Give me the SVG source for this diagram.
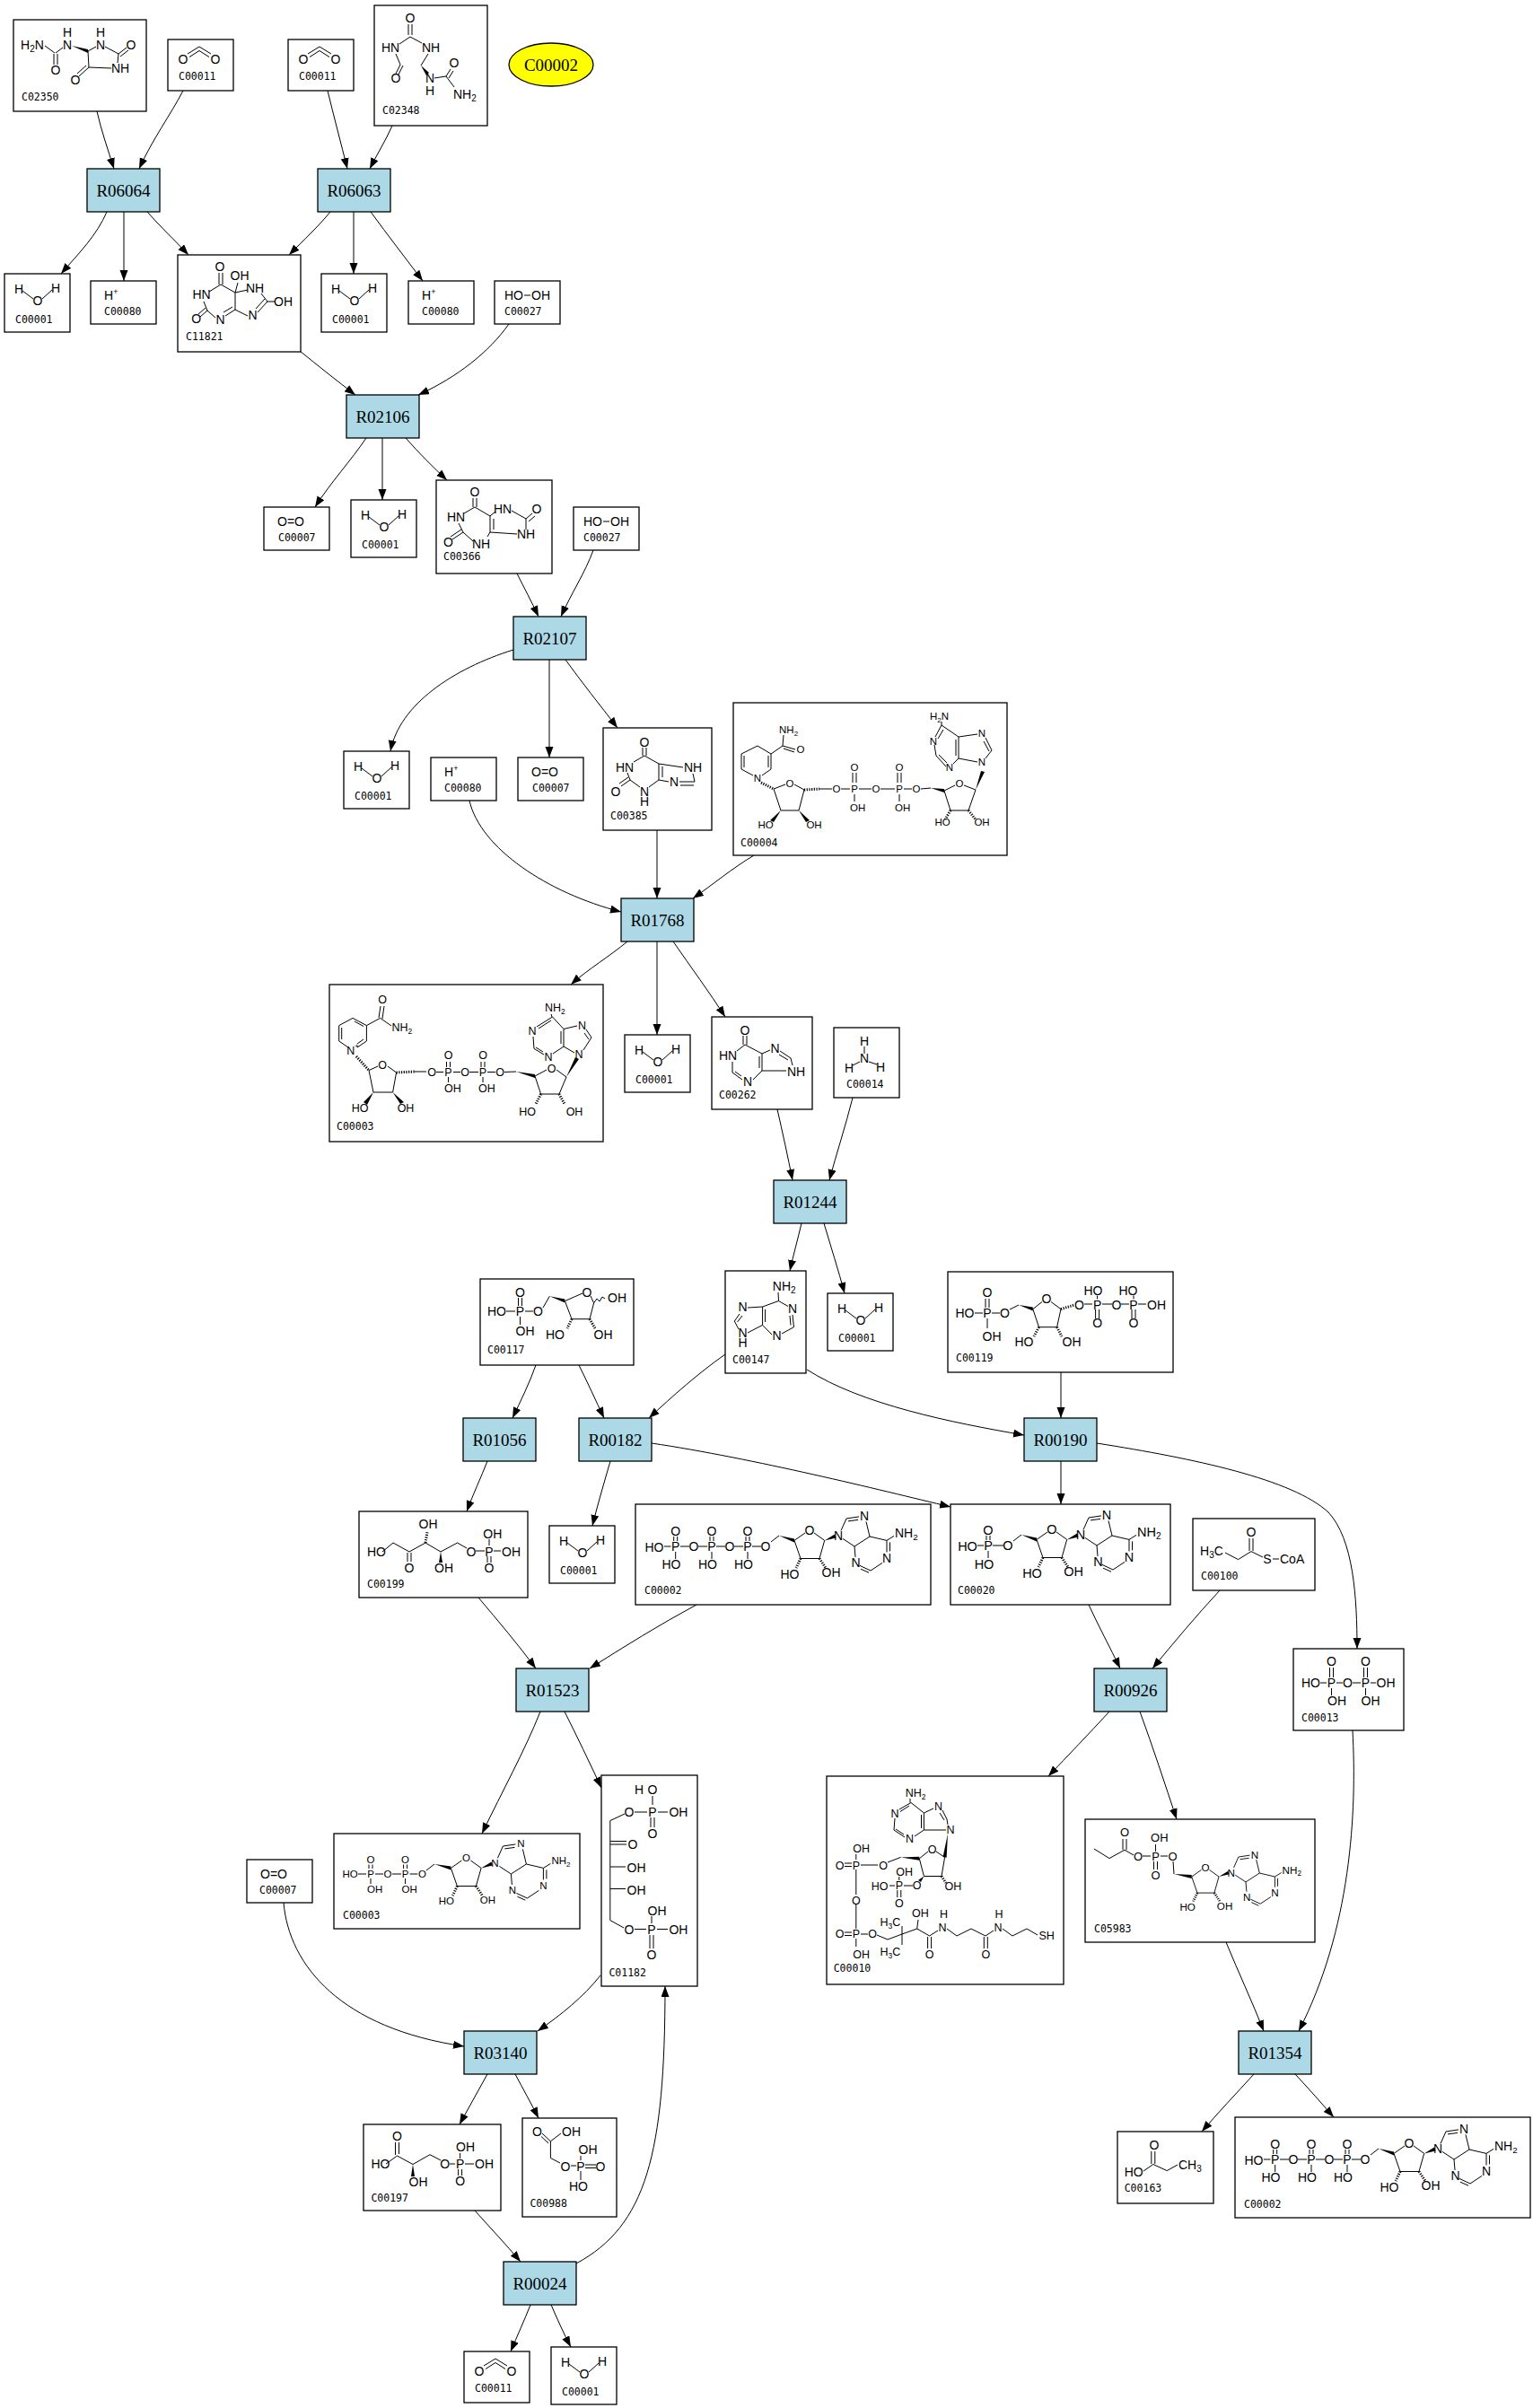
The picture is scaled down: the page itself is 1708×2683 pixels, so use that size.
<svg xmlns="http://www.w3.org/2000/svg" width="1708" height="2683" viewBox="0 0 1708 2683">
<style>
.bx{fill:#fff;stroke:#000;stroke-width:1.3}
.rx{fill:#add8e6;stroke:#000;stroke-width:1.3}
.rt{font-family:"Liberation Serif","Times New Roman",serif;font-size:19px;text-anchor:middle;fill:#000}
.id{font-family:"DejaVu Sans Mono","Liberation Mono",monospace;font-size:11.5px;fill:#000}
.m text{font-family:"Liberation Sans",Arial,sans-serif;text-anchor:middle;fill:#000}
.m .s{text-anchor:start}
.m path{fill:none;stroke:#000;stroke-width:1}
.m .w{fill:#000;stroke:none}
.m .h{stroke-dasharray:1.2 1.5;stroke-width:3}
#edges path{fill:none;stroke:#000;stroke-width:1;marker-end:url(#a)}
</style>
<defs>
<marker id="a" markerWidth="13" markerHeight="10" refX="12" refY="4.5" orient="auto" markerUnits="userSpaceOnUse"><path d="M0,0 L12,4.5 L0,9 Z" fill="#000"/></marker>
</defs>
<rect width="1708" height="2683" fill="#fff"/>

<g id="edges">
<path d="M108,124 C113,146 120,166 127,188"/>
<path d="M204,101 C190,128 170,155 155,188"/>
<path d="M365,101 C372,130 380,160 387,188"/>
<path d="M437,140 C430,156 420,172 412,188"/>
<path d="M119,236 C108,262 88,282 68,305"/>
<path d="M138,236 L138,313"/>
<path d="M164,236 C178,252 195,268 210,284"/>
<path d="M368,236 C355,252 338,268 322,284"/>
<path d="M394,236 L394,305"/>
<path d="M413,236 C432,262 452,288 471,313"/>
<path d="M334,391 C355,408 375,424 396,440"/>
<path d="M567,361 C545,392 510,420 466,440"/>
<path d="M408,488 C392,512 368,538 351,565"/>
<path d="M426,488 L426,557"/>
<path d="M452,488 C467,505 482,520 498,535"/>
<path d="M576,639 C584,655 592,670 600,687"/>
<path d="M661,613 C652,638 636,662 625,687"/>
<path d="M572,724 C505,745 445,785 435,837"/>
<path d="M612,735 L612,844"/>
<path d="M630,735 C648,760 668,785 688,811"/>
<path d="M523,892 C535,945 610,995 692,1016"/>
<path d="M732,925 L732,1001"/>
<path d="M840,953 C815,968 795,985 772,1001"/>
<path d="M699,1049 C680,1065 655,1080 636,1097"/>
<path d="M732,1049 L732,1153"/>
<path d="M750,1049 C770,1078 790,1105 808,1133"/>
<path d="M866,1236 C872,1262 878,1290 883,1315"/>
<path d="M950,1223 C942,1255 932,1285 924,1315"/>
<path d="M893,1363 C889,1380 884,1398 880,1416"/>
<path d="M918,1363 C926,1390 934,1415 941,1441"/>
<path d="M597,1521 C590,1541 580,1561 571,1580"/>
<path d="M645,1521 C655,1541 664,1561 673,1580"/>
<path d="M808,1509 C778,1530 750,1555 723,1580"/>
<path d="M899,1526 C960,1565 1060,1585 1141,1599"/>
<path d="M543,1628 C536,1646 527,1665 520,1684"/>
<path d="M680,1628 C673,1652 666,1676 660,1700"/>
<path d="M726,1608 C840,1625 980,1660 1059,1679"/>
<path d="M533,1780 C555,1806 577,1832 597,1859"/>
<path d="M776,1788 C735,1810 695,1835 657,1859"/>
<path d="M602,1907 C585,1950 560,1995 537,2043"/>
<path d="M629,1907 C643,1935 656,1962 670,1992"/>
<path d="M1182,1529 L1182,1580"/>
<path d="M1182,1628 L1182,1676"/>
<path d="M1222,1608 C1330,1625 1440,1648 1480,1685 C1508,1715 1512,1780 1512,1837"/>
<path d="M1213,1788 C1224,1812 1237,1836 1248,1859"/>
<path d="M1359,1772 C1333,1800 1308,1830 1284,1859"/>
<path d="M1236,1907 C1213,1932 1190,1956 1168,1979"/>
<path d="M1270,1907 C1285,1948 1298,1988 1311,2027"/>
<path d="M1507,1928 C1512,2020 1505,2150 1447,2263"/>
<path d="M1366,2164 C1380,2198 1395,2230 1408,2263"/>
<path d="M1397,2311 C1377,2333 1357,2354 1339,2375"/>
<path d="M1443,2311 C1458,2327 1472,2343 1486,2359"/>
<path d="M316,2120 C322,2190 380,2260 517,2280"/>
<path d="M669,2201 C650,2225 625,2245 599,2263"/>
<path d="M543,2311 C533,2330 522,2348 512,2367"/>
<path d="M574,2311 C583,2328 592,2344 600,2360"/>
<path d="M529,2463 C546,2482 563,2500 580,2520"/>
<path d="M642,2522 C720,2480 741,2400 741,2213"/>
<path d="M591,2568 C584,2586 576,2603 569,2620"/>
<path d="M614,2568 C621,2584 628,2600 636,2615"/>
</g>

<!-- reactions -->
<g id="R06064"><rect class="rx" x="97" y="188" width="81" height="48"/><text class="rt" x="137.5" y="218.5">R06064</text></g>
<g id="R06063"><rect class="rx" x="354" y="188" width="81" height="48"/><text class="rt" x="394.5" y="218.5">R06063</text></g>
<g id="R02106"><rect class="rx" x="386" y="440" width="81" height="48"/><text class="rt" x="426.5" y="470.5">R02106</text></g>
<g id="R02107"><rect class="rx" x="572" y="687" width="81" height="48"/><text class="rt" x="612.5" y="717.5">R02107</text></g>
<g id="R01768"><rect class="rx" x="692" y="1001" width="81" height="48"/><text class="rt" x="732.5" y="1031.5">R01768</text></g>
<g id="R01244"><rect class="rx" x="862" y="1315" width="81" height="48"/><text class="rt" x="902.5" y="1345.5">R01244</text></g>
<g id="R01056"><rect class="rx" x="516" y="1580" width="81" height="48"/><text class="rt" x="556.5" y="1610.5">R01056</text></g>
<g id="R00182"><rect class="rx" x="645" y="1580" width="81" height="48"/><text class="rt" x="685.5" y="1610.5">R00182</text></g>
<g id="R00190"><rect class="rx" x="1141" y="1580" width="81" height="48"/><text class="rt" x="1181.5" y="1610.5">R00190</text></g>
<g id="R01523"><rect class="rx" x="575" y="1859" width="81" height="48"/><text class="rt" x="615.5" y="1889.5">R01523</text></g>
<g id="R00926"><rect class="rx" x="1219" y="1859" width="81" height="48"/><text class="rt" x="1259.5" y="1889.5">R00926</text></g>
<g id="R03140"><rect class="rx" x="517" y="2263" width="81" height="48"/><text class="rt" x="557.5" y="2293.5">R03140</text></g>
<g id="R01354"><rect class="rx" x="1380" y="2263" width="81" height="48"/><text class="rt" x="1420.5" y="2293.5">R01354</text></g>
<g id="R00024"><rect class="rx" x="561" y="2520" width="81" height="48"/><text class="rt" x="601.5" y="2550.5">R00024</text></g>

<!-- ellipse -->
<g id="C00002_main"><ellipse cx="614" cy="72" rx="47" ry="24" fill="#ffff00" stroke="#000" stroke-width="1.3"/><text class="rt" x="614" y="78.5">C00002</text></g>

<!-- compounds -->
<g id="C02350_a" transform="translate(15,22)"><rect class="bx" width="148" height="102"/><g class="m" font-size="14">
<text class="s" x="8" y="33">H<tspan font-size="10" dy="3">2</tspan><tspan dy="-3">N</tspan></text>
<text x="47" y="61">O</text><text x="60" y="19">H</text><text x="60" y="33">N</text><text x="97" y="19">H</text><text x="97" y="33">N</text><text x="131" y="33">O</text><text class="s" x="109" y="59">NH</text><text x="69" y="72">O</text>
<path d="M35,29 L46,37 M45,38 L45,50 M49,38 L49,50 M47,37 L55,31 M83,35 L92,30 M102,30 L117,38 L126,31 M119,41 L128,34 M117,38 L116,48 M109,54 L84,53 L83,35 M84,53 L73,63 M81,51 L71,60"/>
<path class="w" d="M65,29 L83,33 L83,37 Z"/>
</g><text class="id" x="9" y="90">C02350</text></g>

<g id="C00011_a" transform="translate(187,44)"><rect class="bx" width="73" height="57"/><g class="m" font-size="14"><text x="17" y="27">O</text><text x="53" y="27">O</text><path d="M22,16 L35,8 L48,16 M24,19.5 L35,12.5 L46,19.5"/></g><text class="id" x="12" y="45">C00011</text></g>
<g id="C00011_b" transform="translate(321,44)"><rect class="bx" width="73" height="57"/><g class="m" font-size="14"><text x="17" y="27">O</text><text x="53" y="27">O</text><path d="M22,16 L35,8 L48,16 M24,19.5 L35,12.5 L46,19.5"/></g><text class="id" x="12" y="45">C00011</text></g>

<g id="C02348_a" transform="translate(417,6)"><rect class="bx" width="126" height="134"/><g class="m" font-size="14">
<text x="40" y="19">O</text><text x="18" y="52">HN</text><text x="63" y="52">NH</text><text x="24" y="86">O</text><text x="62" y="86">N</text><text x="62" y="100">H</text><text x="89" y="69">O</text>
<text class="s" x="88" y="104">NH<tspan font-size="10" dy="3">2</tspan></text>
<path d="M38,21 L38,33 M42,21 L42,33 M40,35 L28,43 M40,35 L53,42 M24,54 L29,66 L24,76 M32,67 L27,77 M60,54 L52,67 M67,81 L80,79 L85,71 M83,81 L88,73 M80,79 L89,91"/>
<path class="w" d="M52,67 L61,75 L58,78 Z"/>
</g><text class="id" x="9" y="121">C02348</text></g>

<g id="C00001_a" transform="translate(5,305)"><rect class="bx" width="73" height="65"/><g class="m" font-size="14"><text x="16" y="22">H</text><text x="37" y="35">O</text><text x="57" y="21">H</text><path d="M20,19 L32,28 M42,28 L53,18"/></g><text class="id" x="12" y="55">C00001</text></g>
<g id="C00080_a" transform="translate(101,313)"><rect class="bx" width="73" height="48"/><g class="m" font-size="14"><text class="s" x="15" y="21">H<tspan font-size="9" dy="-6">+</tspan></text></g><text class="id" x="15" y="38">C00080</text></g>

<g id="C11821_a" transform="translate(198,284)"><rect class="bx" width="137" height="108"/><g class="m" font-size="14">
<text x="47" y="18">O</text><text x="69" y="28">OH</text><text x="26.5" y="48.6">HN</text><text x="86" y="42">NH</text><text x="117.5" y="57">OH</text><text x="20.7" y="76">O</text><text x="47.5" y="77">N</text><text x="83.5" y="72">N</text>
<path d="M46,20 L46,33 M50,20 L50,33 M48,33 L35,41 M48,33 L64,42 L67,31 M64,42 L64,61 L53,68 M61,58 L51,64 M42,70 L33,62 L29,52 M33,62 L25,69 M31,59 L23,66 M64,42 L78,39 M93,43 L100,52 L108,52 M100,52 L89,64 M97,49 L87,60 M78,68 L64,61"/>
</g><text class="id" x="9" y="95">C11821</text></g>

<g id="C00001_b" transform="translate(358,305)"><rect class="bx" width="73" height="65"/><g class="m" font-size="14"><text x="16" y="22">H</text><text x="37" y="35">O</text><text x="57" y="21">H</text><path d="M20,19 L32,28 M42,28 L53,18"/></g><text class="id" x="12" y="55">C00001</text></g>
<g id="C00080_b" transform="translate(455,313)"><rect class="bx" width="73" height="48"/><g class="m" font-size="14"><text class="s" x="15" y="21">H<tspan font-size="9" dy="-6">+</tspan></text></g><text class="id" x="15" y="38">C00080</text></g>
<g id="C00027_a" transform="translate(551,313)"><rect class="bx" width="73" height="48"/><g class="m" font-size="14"><text class="s" x="11" y="21">HO</text><text class="s" x="41" y="21">OH</text><path d="M33,16 L40,16"/></g><text class="id" x="11" y="38">C00027</text></g>

<g id="C00007_a" transform="translate(294,565)"><rect class="bx" width="73" height="48"/><g class="m" font-size="14"><text x="30" y="21">O=O</text></g><text class="id" x="16" y="38">C00007</text></g>
<g id="C00001_c" transform="translate(391,557)"><rect class="bx" width="73" height="64"/><g class="m" font-size="14"><text x="16" y="22">H</text><text x="37" y="35">O</text><text x="57" y="21">H</text><path d="M20,19 L32,28 M42,28 L53,18"/></g><text class="id" x="12" y="54">C00001</text></g>

<g id="C00366_a" transform="translate(486,535)"><rect class="bx" width="129" height="104"/><g class="m" font-size="14">
<text x="43" y="18">O</text><text x="22" y="46">HN</text><text x="74" y="37">HN</text><text x="112" y="37">O</text><text x="100" y="65">NH</text><text x="13.5" y="74">O</text><text x="50" y="76">NH</text>
<path d="M41,20 L41,30 M45,20 L45,30 M43,30 L31,37 M43,30 L60,40 L60,58 M64,43 L64,55 M60,58 L57,63 M41,68 L30,58 L25,48 M30,58 L18,66 M28,55 L16,63 M60,40 L66,35 M84,34 L100,43 L107,37 M103,46 L110,40 M100,43 L100,55 M90,60 L60,58"/>
</g><text class="id" x="8" y="89">C00366</text></g>

<g id="C00027_b" transform="translate(639,565)"><rect class="bx" width="73" height="48"/><g class="m" font-size="14"><text class="s" x="11" y="21">HO</text><text class="s" x="41" y="21">OH</text><path d="M33,16 L40,16"/></g><text class="id" x="11" y="38">C00027</text></g>

<g id="C00001_d" transform="translate(383,837)"><rect class="bx" width="73" height="64"/><g class="m" font-size="14"><text x="16" y="22">H</text><text x="37" y="35">O</text><text x="57" y="21">H</text><path d="M20,19 L32,28 M42,28 L53,18"/></g><text class="id" x="12" y="54">C00001</text></g>
<g id="C00080_c" transform="translate(480,844)"><rect class="bx" width="73" height="48"/><g class="m" font-size="14"><text class="s" x="15" y="21">H<tspan font-size="9" dy="-6">+</tspan></text></g><text class="id" x="15" y="38">C00080</text></g>
<g id="C00007_b" transform="translate(577,844)"><rect class="bx" width="73" height="48"/><g class="m" font-size="14"><text x="30" y="21">O=O</text></g><text class="id" x="16" y="38">C00007</text></g>

<g id="C00385_a" transform="translate(672,811)"><rect class="bx" width="121" height="114"/><g class="m" font-size="14">
<text x="46" y="20.5">O</text><text x="24" y="49">HN</text><text x="100" y="49">NH</text><text x="14" y="76">O</text><text x="46" y="76">N</text><text x="46" y="87">H</text><text x="79" y="65">N</text>
<path d="M44,22 L44,31 M48,22 L48,31 M46,31 L34,38 M46,31 L62,40 L62,58 M66,43 L66,55 M62,58 L51,66 M41,66 L30,58 L27,50 M30,58 L20,65 M28,55 L18,62 M62,40 L89,44 M100,51 L102,60 L85,60 M101,64 L86,64 M73,60 L62,58"/>
</g><text class="id" x="8" y="102">C00385</text></g>

<g id="C00004_a" transform="translate(817,783)"><rect class="bx" width="305" height="170"/><g class="m" font-size="11.5">
<text class="s" x="51" y="34">NH<tspan font-size="8" dy="3">2</tspan></text>
<text x="75" y="56">O</text><text x="27" y="88">N</text><text x="63" y="94">O</text>
<text x="36" y="140">HO</text><text x="90" y="140">OH</text>
<text x="115" y="100">O</text><text x="135" y="100">P</text><text x="135" y="76">O</text><text class="s" x="130" y="121">OH</text>
<text x="159" y="100">O</text><text x="185" y="100">P</text><text x="185" y="76">O</text><text class="s" x="180" y="121">OH</text>
<text x="204" y="100">O</text><text x="252" y="93.5">O</text>
<text x="233" y="137">HO</text><text x="277" y="137">OH</text>
<text class="s" x="219" y="19.3">H<tspan font-size="8" dy="3">2</tspan><tspan dy="-3">N</tspan></text>
<text x="223" y="46.7">N</text><text x="241" y="76">N</text><text x="277" y="38.3">N</text><text x="277" y="70">N</text>
<path d="M27,48 L42,57 L42,74 L32,81 M22,81 L9,74 L9,57 L27,48 M39,59 L39,72 M12,59 L12,72 M42,57 L55,48 L69,52 M56,51 L68,55 M55,48 L56,36 M45,96 L58,91 M68,91 L79,97 L73,120 L53,120 L45,96 M96,96 L110,96 M120,96 L130,96 M140,96 L154,96 M164,96 L180,96 M190,96 L199,96 M209,96 L220,95 M133,78 L133,89 M137,78 L137,89 M135,102 L135,110 M183,78 L183,89 M187,78 L187,89 M185,102 L185,110 M235,98 L247,92 M257,92 L270,97 L262,120 L242,120 L235,98 M281,62 L288,53 L281,39 M285,54 L279,43 M272,35 L251,38 L251,62 L272,66 M248,41 L248,59 M251,62 L245,68 M237,71 L226,59 L224,47 M238,67 L229,58 M225,38 L232,25 L251,38 M228,40 L234,30 M232,25 L232,21"/>
<path class="h" d="M31,89 L45,96 M79,97 L96,96 M242,120 L236,130 M262,120 L270,130"/>
<path class="w" d="M53,120 L41,131 L45,133 Z M73,120 L81,133 L85,131 Z M220,95 L235,96 L235,100 Z M270,97 L276,76 L280,77 Z"/>
</g><text class="id" x="8" y="160">C00004</text></g>

<g id="C00003_a" transform="translate(367,1097)"><rect class="bx" width="305" height="175"/><g class="m" font-size="12.5">
<text x="59" y="21">O</text>
<text class="s" x="69.5" y="52">NH<tspan font-size="8.5" dy="3">2</tspan></text>
<text x="26" y="78">N<tspan font-size="8" dy="-7">+</tspan></text>
<text x="59" y="94">O</text>
<text x="34" y="141.7">HO</text><text x="85" y="141.7">OH</text>
<text x="114" y="102">O</text><text x="132.5" y="102">P</text><text x="132.5" y="83">O</text><text class="s" x="128" y="120">OH</text>
<text x="151" y="102">O</text><text x="171" y="102">P</text><text x="171" y="83">O</text><text class="s" x="166" y="120">OH</text>
<text x="190" y="102">O</text><text x="247.5" y="97.5">O</text>
<text x="220.5" y="145.6">HO</text><text x="273" y="145.6">OH</text>
<text class="s" x="240" y="30">NH<tspan font-size="8.5" dy="3">2</tspan></text>
<text x="226" y="56">N</text><text x="244" y="84.5">N</text><text x="281.6" y="50">N</text><text x="278" y="81.5">N</text>
<path d="M10.7,45.6 L26,37.4 L41.4,45.6 L41.4,63 L31,70 M21,70 L10.7,63 L10.7,45.6 M28,41 L38,46.5 M38,61 L31,66 M13.7,48 L13.7,61 M41.4,45.6 L56.7,37.4 L69,46 M55,37 L57,24 M59,38 L61,24 M44,95.6 L54,91 M65,91 L74.6,98 L70.6,120 L49,120 L44,95.6 M95,97 L108,97 M119,97.5 L127,97.5 M138,97.5 L146,97.5 M156,97.5 L166,97.5 M176,97.5 L185,97.5 M195,97.5 L208,97 M130.5,86 L130.5,92 M134.5,86 L134.5,92 M132.5,103 L132.5,109 M169,86 L169,92 M173,86 L173,92 M171,103 L171,109 M229,102 L242,95 M253,95 L264,103 L256,122 L235.6,122 L229,102 M248.5,36 L231,47 M247,40 L233,49 M248.5,36 L261,49.5 L261,69 L249,77 M258,52 L258,66 M239,78 L228,71.4 L227,58 M238,75 L230,70 M261,49.5 L276,46 M286,50 L292,59 L283,73 M284,54 L289,61 M273,76 L261,69 M248,36 L247,33"/>
<path class="h" d="M30,80 L44,95.6 M74.6,98 L95,97 M235.6,122 L230,133 M256,122 L262,133"/>
<path class="w" d="M49,120 L38,131 L42,134 Z M70.6,120 L79,133 L83,131 Z M208,97 L229,100 L229,104 Z M264,103 L274,81 L278,83 Z"/>
</g><text class="id" x="8" y="162">C00003</text></g>

<g id="C00001_e" transform="translate(696,1153)"><rect class="bx" width="73" height="64"/><g class="m" font-size="14"><text x="16" y="22">H</text><text x="37" y="35">O</text><text x="57" y="21">H</text><path d="M20,19 L32,28 M42,28 L53,18"/></g><text class="id" x="12" y="54">C00001</text></g>

<g id="C00262_a" transform="translate(793,1133)"><rect class="bx" width="112" height="103"/><g class="m" font-size="14">
<text x="37" y="19.5">O</text><text x="18" y="47.5">HN</text><text x="70.6" y="40">N</text><text class="s" x="84" y="65.5">NH</text><text x="40" y="76.5">N</text>
<path d="M35,21 L35,31 M39,21 L39,31 M37,31 L28,38 M37,31 L56,41 L56,60 M53,44 L53,57 M23,50 L23,62 L34,70 M26,61 L33,66 M46,70 L56,60 L83,60 M56,41 L65,37 M76,38 L88,46 L90,54 M75,42 L85,48"/>
</g><text class="id" x="8" y="91">C00262</text></g>

<g id="C00014_a" transform="translate(929,1145)"><rect class="bx" width="73" height="78"/><g class="m" font-size="14"><text x="34" y="20">H</text><text x="34" y="39">N</text><text x="17" y="49.5">H</text><text x="52" y="48.5">H</text><path d="M34,21 L34,29 M29,38 L21,42 M39,38 L48,41"/></g><text class="id" x="14" y="66.5">C00014</text></g>

<g id="C00117_a" transform="translate(535,1425)"><rect class="bx" width="171" height="96"/><g class="m" font-size="14">
<text x="18.5" y="41">HO</text><text x="44.5" y="41">P</text><text x="44.5" y="19.5">O</text><text x="50" y="62.6">OH</text><text x="64.5" y="41">O</text>
<text x="119" y="19.5">O</text><text class="s" x="142" y="25.5">OH</text><text x="83.5" y="67">HO</text><text x="137" y="67">OH</text>
<path d="M29,36 L39,36 M50,36 L59,36 M42.5,21 L42.5,30 M46.5,21 L46.5,30 M44.5,42 L44.5,51 M70,32 L77.4,19.2 M94.4,24.6 L114,16 M123,19 L126.6,26.8 L122,44.7 L102,44.7 L94.4,24.6 M126.6,26.8 L130,22 L133,25 L136,20 L139,22"/>
<path class="h" d="M102,44.7 L97,55 M122,44.7 L128,55"/>
<path class="w" d="M77.4,19.2 L94.4,22.6 L94.4,26.6 Z"/>
</g><text class="id" x="8" y="83">C00117</text></g>

<g id="C00147_a" transform="translate(808,1416)"><rect class="bx" width="90" height="114"/><g class="m" font-size="14">
<text class="s" x="52.8" y="22.4">NH<tspan font-size="10" dy="3">2</tspan></text>
<text x="75" y="47">N</text><text x="57.5" y="77">N</text><text x="19.5" y="45">N</text><text x="19.5" y="74">N</text><text x="19.5" y="85">H</text>
<path d="M59.5,33.5 L59,24 M59.5,33.5 L70,39.5 M75,49 L76.5,62.6 L63,70 M72,50 L73,60.5 M52,71 L41.6,60.4 L41.6,40 L59.5,33.5 M44.6,57 L44.6,43 M41.6,40 L25,41 M16,48 L10.3,56 L15,65 M19,50 L13.5,57 M25,69 L41.6,60.4"/>
</g><text class="id" x="8" y="103">C00147</text></g>

<g id="C00001_f" transform="translate(922,1441)"><rect class="bx" width="73" height="64"/><g class="m" font-size="14"><text x="16" y="22">H</text><text x="37" y="35">O</text><text x="57" y="21">H</text><path d="M20,19 L32,28 M42,28 L53,18"/></g><text class="id" x="12" y="54">C00001</text></g>

<g id="C00119_a" transform="translate(1056,1417)"><rect class="bx" width="251" height="112"/><g class="m" font-size="14">
<text x="19" y="51">HO</text><text x="44" y="51">P</text><text x="44" y="28">O</text><text x="49" y="76.5">OH</text><text x="63.5" y="51">O</text>
<text x="110" y="35">O</text><text x="85" y="82.7">HO</text><text x="138" y="82.7">OH</text>
<text x="146.5" y="41.5">O</text><text x="166.6" y="41.5">P</text><text x="162" y="25.5">HO</text><text x="166.6" y="62">O</text>
<text x="188" y="41.5">O</text><text x="207" y="41.5">P</text><text x="201" y="25.5">HO</text><text x="207" y="62">O</text><text class="s" x="222" y="41.5">OH</text>
<path d="M30,46 L39,46 M49,46 L58,46 M42,30 L42,40 M46,30 L46,40 M44,52 L44,63 M69,42 L79,37 M94.8,41.6 L105,33.5 M115,33.5 L126,41.6 L121.6,61.7 L101.5,61.7 L94.8,41.6 M152,36 L161,36 M172,36 L183,36 M166.6,26.5 L166.6,30.5 M164.6,42 L164.6,52 M168.6,42 L168.6,52 M193,36 L202,36 M207,26.5 L207,30.5 M205,42 L205,52 M209,42 L209,52 M212,36 L221,36"/>
<path class="h" d="M101.5,61.7 L96,72 M121.6,61.7 L127,72 M126,41.6 L141,37"/>
<path class="w" d="M79,37 L94.8,39.6 L94.8,43.6 Z"/>
</g><text class="id" x="9" y="99.7">C00119</text></g>

<g id="C00199_a" transform="translate(400,1684)"><rect class="bx" width="188" height="96"/><g class="m" font-size="14">
<text class="s" x="9" y="49.6">HO</text><text x="56" y="68">O</text><text x="77" y="19">OH</text><text x="94.5" y="68">OH</text>
<text x="125" y="49.6">O</text><text x="145" y="49.6">P</text><text x="148.8" y="29.5">OH</text><text class="s" x="159" y="49.6">OH</text><text x="145" y="68">O</text>
<path d="M26,45 L38,35 L56,45 L74,35 L91,45 L109.6,35 L120,41 M54,46 L54,56 M58,46 L58,56 M130,44 L140,44 M150,44 L158,44 M145,38 L145,31 M143,50 L143,57 M147,50 L147,57"/>
<path class="h" d="M74,35 L76,23"/>
<path class="w" d="M91,45 L93,57 L89,57 Z"/>
</g><text class="id" x="9" y="85.4">C00199</text></g>

<g id="C00001_g" transform="translate(612,1700)"><rect class="bx" width="73" height="64"/><g class="m" font-size="14"><text x="16" y="22">H</text><text x="37" y="35">O</text><text x="57" y="21">H</text><path d="M20,19 L32,28 M42,28 L53,18"/></g><text class="id" x="12" y="54">C00001</text></g>

<g id="C00002_m" transform="translate(708,1676)"><rect class="bx" width="329" height="112"/><g class="m" font-size="14">
<text x="21" y="53">HO</text>
<text x="44.7" y="52">P</text><text x="44.7" y="35">O</text><text x="40" y="72">HO</text>
<text x="85" y="52">P</text><text x="85" y="35">O</text><text x="80.5" y="72">HO</text>
<text x="125" y="52">P</text><text x="125" y="35">O</text><text x="120.5" y="72">HO</text>
<text x="65" y="52">O</text><text x="105" y="52">O</text><text x="145" y="52">O</text>
<path d="M32,47 L39.5,47 M50,47 L60,47 M70,47 L80,47 M90,47 L100,47 M110,47 L120,47 M130,47 L140,47 M42.7,36 L42.7,41 M46.7,36 L46.7,41 M83,36 L83,41 M87,36 L87,41 M123,36 L123,41 M127,36 L127,41 M44.7,53 L44.7,61 M85,53 L85,61 M125,53 L125,61 M151,42 L160,35"/>
<path class="w" d="M160,35 L177,38.4 L177,42.4 Z"/>
<g transform="translate(177,40.4)"><path d="M0,0 L12,-8.4 M22,-8.4 L33.7,0 L28,20.1 L7,20.1 L0,0 M52,-11 L58,-24.4 L72,-26.5 M60,-21.5 L71,-23 M80,-21 L84,-4.4 L67,6.6 L54,-2 M67,6.6 L68,18.5 M73,28 L85,33.6 M74,31.8 L83,35.8 M85,33.6 L98,25 M103,13 L103,0 M106.5,12 L106.5,2 M103,0 L84,-4.4 M103,0 L111,-5"/><path class="h" d="M7,20.1 L2,30.6 M28,20.1 L35,30.6"/><path class="w" d="M33.7,0 L45,-7 L46.5,-3 Z"/><text x="17" y="-6.4">O</text><text x="-5" y="42.4">HO</text><text x="41" y="41.1">OH</text><text x="49" y="-0.4">N</text><text x="78" y="-22.1">N</text><text x="68.5" y="30">N</text><text x="103" y="24.9">N</text><text class="s" x="112" y="-3.6">NH<tspan font-size="70%" dy="3">2</tspan></text></g>
</g><text class="id" x="10" y="100">C00002</text></g>

<g id="C00020_a" transform="translate(1059,1676)"><rect class="bx" width="245" height="112"/><g class="m" font-size="14.5">
<text x="19" y="52">HO</text><text x="42" y="51">P</text><text x="42" y="34">O</text><text x="37.5" y="71.5">HO</text><text x="64" y="51">O</text>
<path d="M30,46 L37,46 M47,46 L59,46 M40,35 L40,40 M44,35 L44,40 M42,52 L42,60 M70,41 L79,34"/>
<path class="w" d="M79,34 L96,37.4 L96,41.4 Z"/>
<g transform="translate(96,39.4)"><path d="M0,0 L12,-8.4 M22,-8.4 L33.7,0 L28,20.1 L7,20.1 L0,0 M52,-11 L58,-24.4 L72,-26.5 M60,-21.5 L71,-23 M80,-21 L84,-4.4 L67,6.6 L54,-2 M67,6.6 L68,18.5 M73,28 L85,33.6 M74,31.8 L83,35.8 M85,33.6 L98,25 M103,13 L103,0 M106.5,12 L106.5,2 M103,0 L84,-4.4 M103,0 L111,-5"/><path class="h" d="M7,20.1 L2,30.6 M28,20.1 L35,30.6"/><path class="w" d="M33.7,0 L45,-7 L46.5,-3 Z"/><text x="17" y="-6.4">O</text><text x="-5" y="42.4">HO</text><text x="41" y="41.1">OH</text><text x="49" y="-0.4">N</text><text x="78" y="-22.1">N</text><text x="68.5" y="30">N</text><text x="103" y="24.9">N</text><text class="s" x="112" y="-3.6">NH<tspan font-size="70%" dy="3">2</tspan></text></g>
</g><text class="id" x="8" y="100">C00020</text></g>

<g id="C00100_a" transform="translate(1329,1692)"><rect class="bx" width="136" height="80"/><g class="m" font-size="14">
<text class="s" x="8" y="41">H<tspan font-size="10" dy="3">3</tspan><tspan dy="-3">C</tspan></text>
<text x="65" y="20.4">O</text><text x="83" y="50">S</text><text class="s" x="97" y="50">CoA</text>
<path d="M36,38 L50.5,45.6 L65,36.6 L78,43 M63,36 L63,22 M67,36 L67,22 M89,45 L96,45"/>
</g><text class="id" x="9" y="68">C00100</text></g>

<g id="C00013_a" transform="translate(1441,1837)"><rect class="bx" width="123" height="91"/><g class="m" font-size="14">
<text x="42.5" y="19">O</text><text x="80.5" y="19">O</text><text class="s" x="9" y="43">HO</text><text x="42.5" y="43">P</text><text x="60.4" y="43">O</text><text x="80.5" y="43">P</text><text class="s" x="92.6" y="43">OH</text><text class="s" x="38" y="62.6">OH</text><text class="s" x="75.6" y="62.6">OH</text>
<path d="M30,38 L37,38 M48,38 L55,38 M66,38 L75,38 M86,38 L92,38 M40.5,21 L40.5,32 M44.5,21 L44.5,32 M78.5,21 L78.5,32 M82.5,21 L82.5,32 M42.5,44 L42.5,52 M80.5,44 L80.5,52"/>
</g><text class="id" x="9" y="80.5">C00013</text></g>

<g id="C00003_b" transform="translate(372,2043)"><rect class="bx" width="274" height="106"/><g class="m" font-size="11.5">
<text x="18" y="49">HO</text>
<text x="41" y="49">P</text><text x="41" y="33">O</text><text class="s" x="37" y="66">OH</text>
<text x="79.6" y="49">P</text><text x="79.6" y="33">O</text><text class="s" x="75.6" y="66">OH</text>
<text x="60" y="49">O</text><text x="98.4" y="49">O</text>
<path d="M27,45 L36,45 M46,45 L55,45 M65,45 L75,45 M84.6,45 L93.4,45 M39,34.5 L39,39 M43,34.5 L43,39 M77.6,34.5 L77.6,39 M81.6,34.5 L81.6,39 M41,50 L41,56 M79.6,50 L79.6,56 M103,41 L112,34"/>
<path class="w" d="M112,34 L130.4,36.4 L130.4,40.4 Z"/>
<g transform="translate(130.4,38.4)"><path d="M0,0 L12,-8.4 M22,-8.4 L33.7,0 L28,20.1 L7,20.1 L0,0 M52,-11 L58,-24.4 L72,-26.5 M60,-21.5 L71,-23 M80,-21 L84,-4.4 L67,6.6 L54,-2 M67,6.6 L68,18.5 M73,28 L85,33.6 M74,31.8 L83,35.8 M85,33.6 L98,25 M103,13 L103,0 M106.5,12 L106.5,2 M103,0 L84,-4.4 M103,0 L111,-5"/><path class="h" d="M7,20.1 L2,30.6 M28,20.1 L35,30.6"/><path class="w" d="M33.7,0 L45,-7 L46.5,-3 Z"/><text x="17" y="-7">O</text><text x="-5" y="41">HO</text><text x="41" y="40">OH</text><text x="49" y="-1">N</text><text x="78" y="-23">N</text><text x="68.5" y="29">N</text><text x="103" y="24">N</text><text class="s" x="112" y="-4">NH<tspan font-size="70%" dy="3">2</tspan></text></g>
</g><text class="id" x="10" y="94.5">C00003</text></g>

<g id="C01182_a" transform="translate(670,1978)"><rect class="bx" width="107" height="235"/><g class="m" font-size="14">
<text x="42" y="21">H</text><text x="57" y="21">O</text>
<text x="31" y="46">O</text><text x="57" y="46">P</text><text class="s" x="75.4" y="46">OH</text><text x="57" y="70">O</text>
<text x="35" y="82">O</text><text class="s" x="28.6" y="107.7">OH</text><text class="s" x="28.6" y="132.5">OH</text>
<text x="31" y="177">O</text><text x="56" y="177">P</text><text x="62" y="155.6">OH</text><text class="s" x="75.4" y="177">OH</text><text x="56" y="205">O</text>
<path d="M57,23 L57,33 M37,41 L51,41 M63,41 L74,41 M55,47 L55,58 M59,47 L59,58 M26,43 L9.8,50.6 L9.8,161.6 L25,170 M9.8,73.5 L28,73.5 M9.8,77 L28,77 M9.8,102 L27,102 M9.8,126.5 L27,126.5 M37,171.5 L50,171.5 M62,171.5 L74,171.5 M56,157 L56,165 M54,178 L54,193 M58,178 L58,193"/>
</g><text class="id" x="8.4" y="224">C01182</text></g>

<g id="C00010_a" transform="translate(921,1979)"><rect class="bx" width="264" height="232"/><g class="m" font-size="12.5">
<text class="s" x="87.8" y="23.4">NH<tspan font-size="8.5" dy="3">2</tspan></text>
<text x="76" y="46">N</text><text x="92.4" y="74">N</text><text x="124.4" y="38">N</text><text x="138" y="64">N</text>
<text x="117.7" y="86">O</text><text class="s" x="131.6" y="126.5">OH</text>
<text x="59" y="127">HO</text><text x="80.8" y="126">P</text><text x="100.7" y="126">O</text><text x="86.7" y="110.5">OH</text><text x="80.8" y="146">O</text>
<text x="14.5" y="103.5">O</text><text x="32.8" y="103.5">P</text><text x="63" y="103.5">O</text><text x="38.7" y="84.8">OH</text>
<text x="32.8" y="142.5">O</text>
<text x="14.5" y="180.3">O</text><text x="32.8" y="180.3">P</text><text x="51.1" y="180.3">O</text><text x="38.7" y="202.8">OH</text>
<text class="s" x="59.4" y="166.7">H<tspan font-size="8.5" dy="3">3</tspan><tspan dy="-3">C</tspan></text>
<text class="s" x="59.4" y="199.5">H<tspan font-size="8.5" dy="3">3</tspan><tspan dy="-3">C</tspan></text>
<text x="104.3" y="157.4">OH</text>
<text x="130.4" y="158.3">H</text><text x="129" y="173">N</text>
<text x="114.6" y="203">O</text><text x="177.3" y="203">O</text>
<text x="192" y="158.3">H</text><text x="191" y="173">N</text>
<text class="s" x="236.5" y="181.7">SH</text>
<path d="M93,29.5 L93,25 M94,29.5 L81,37 M92,33 L82,39.5 M94,29.5 L108.4,41 L108.4,60 M105.5,43 L105.5,58 M108.4,60 L98,67 M87,68 L75,60 L76,47 M86,65 L77,59 M108.4,41 L119,36 M129,38 L134,48 L135,54 M126,41 L131,49 M133,60 L108.4,60 M131.6,90.4 L122,84 M113,84 L103.3,91.8 L108.4,111.5 L128,111.5 L131.6,90.4 M70,122 L76,122 M86,122 L96,122 M80.8,116 L80.8,112 M78.8,127 L78.8,135 M82.8,127 L82.8,135 M20,97 L28,97 M20,100.5 L28,100.5 M38,99 L57,99 M32.8,93 L32.8,87 M68,96 L82.6,90.4 M32.8,104 L32.8,132 M32.8,143 L32.8,170 M20,174 L28,174 M20,177.5 L28,177.5 M38,176 L46,176 M32.8,181 L32.8,190 M56,177 L68,182 L84,176 M84,176 L84,167 M84,176 L84,188 M84,176 L100.7,170 L102,160 M100.7,170 L114.6,178 L124,172 M112.6,179 L112.6,192 M116.6,179 L116.6,192 M134,170 L145,178 L161,170 L177,178 L186,172 M175.3,179 L175.3,192 M179.3,179 L179.3,192 M196,170 L207,178 L223,170 L235,177"/>
<path class="h" d="M128,111.5 L133,119"/>
<path class="w" d="M135,64 L129.6,90 L133.6,90.8 Z M82.6,90.4 L103.3,89.8 L103.3,93.8 Z M108.4,111.5 L102,116 L105,118 Z"/>
</g><text class="id" x="7.7" y="218">C00010</text></g>

<g id="C05983_a" transform="translate(1209,2027)"><rect class="bx" width="256" height="137"/><g class="m" font-size="13">
<text x="44" y="19">O</text><text x="59" y="46">O</text><text x="78.5" y="46">P</text><text x="82.8" y="24.8">OH</text><text x="78.5" y="67">O</text><text x="97.6" y="46">O</text>
<path d="M10,33 L27,43.6 L44,34.2 M42,34 L42,22 M46,34 L46,22 M44,34.2 L54,40 M64,41 L73,41 M78.5,36 L78.5,28 M76.5,47 L76.5,56 M80.5,47 L80.5,56 M84,41 L92,41 M98,47 L99,61"/>
<path class="w" d="M99,61 L118.7,62 L118.7,66 Z"/>
<g transform="translate(118.7,64) scale(0.9)"><path d="M0,0 L12,-8.4 M22,-8.4 L33.7,0 L28,20.1 L7,20.1 L0,0 M52,-11 L58,-24.4 L72,-26.5 M60,-21.5 L71,-23 M80,-21 L84,-4.4 L67,6.6 L54,-2 M67,6.6 L68,18.5 M73,28 L85,33.6 M74,31.8 L83,35.8 M85,33.6 L98,25 M103,13 L103,0 M106.5,12 L106.5,2 M103,0 L84,-4.4 M103,0 L111,-5"/><path class="h" d="M7,20.1 L2,30.6 M28,20.1 L35,30.6"/><path class="w" d="M33.7,0 L45,-7 L46.5,-3 Z"/><text x="17" y="-6.4">O</text><text x="-5" y="42.4">HO</text><text x="41" y="41.1">OH</text><text x="49" y="-0.4">N</text><text x="78" y="-22.1">N</text><text x="68.5" y="30">N</text><text x="103" y="24.9">N</text><text class="s" x="112" y="-3.6">NH<tspan font-size="70%" dy="3">2</tspan></text></g>
</g><text class="id" x="10" y="125.5">C05983</text></g>

<g id="C00007_c" transform="translate(275,2072)"><rect class="bx" width="73" height="48"/><g class="m" font-size="14"><text x="30" y="21">O=O</text></g><text class="id" x="14" y="38">C00007</text></g>

<g id="C00197_a" transform="translate(405,2367)"><rect class="bx" width="153" height="96"/><g class="m" font-size="14">
<text x="37.5" y="18">O</text><text class="s" x="8.4" y="49">HO</text><text x="61" y="69.3">OH</text>
<text x="90.6" y="49">O</text><text x="107.6" y="49">P</text><text x="113.5" y="30.4">OH</text><text class="s" x="124" y="49">OH</text><text x="107.6" y="68">O</text>
<path d="M25,44 L37.5,35 M35.5,20 L35.5,34 M39.5,20 L39.5,33 M37.5,35 L55,44.5 L74,33.7 L86,40 M96,44 L102,44 M113,44 L123,44 M107.6,38 L107.6,32 M105.6,50 L105.6,57 M109.6,50 L109.6,57"/>
<path class="w" d="M55,44.5 L57,58 L53,58 Z"/>
</g><text class="id" x="8.4" y="85.7">C00197</text></g>

<g id="C00988_a" transform="translate(582,2360)"><rect class="bx" width="105" height="110"/><g class="m" font-size="14">
<text x="16.4" y="20">O</text><text class="s" x="44" y="20">OH</text>
<text x="48" y="59">O</text><text x="65" y="59">P</text><text x="73" y="40">OH</text><text x="87" y="59">O</text><text x="62.5" y="80.5">HO</text>
<path d="M22,17 L31.4,25.8 M21,20.5 L29,28 M31.4,25.8 L43,17 M31.4,25.8 L31.4,44.5 L42,50 M54,53 L60,53 M65,47 L65,42 M70,52 L82,52 M70,55.5 L82,55.5 M65,59 L65,69"/>
</g><text class="id" x="8.4" y="99">C00988</text></g>

<g id="C00163_a" transform="translate(1245,2375)"><rect class="bx" width="107" height="80"/><g class="m" font-size="14">
<text x="41" y="20">O</text><text class="s" x="7.7" y="49.6">HO</text>
<text class="s" x="68" y="42">CH<tspan font-size="10" dy="3">3</tspan></text>
<path d="M29,44 L39.8,36.5 L55.2,43.6 L67,37 M37.8,22 L37.8,36 M41.8,22 L41.8,36"/>
</g><text class="id" x="7.7" y="67">C00163</text></g>

<g id="C00002_b" transform="translate(1376,2359)"><rect class="bx" width="329" height="112"/><g class="m" font-size="14">
<text x="21" y="53">HO</text>
<text x="44.7" y="52">P</text><text x="44.7" y="35">O</text><text x="40" y="72">HO</text>
<text x="85" y="52">P</text><text x="85" y="35">O</text><text x="80.5" y="72">HO</text>
<text x="125" y="52">P</text><text x="125" y="35">O</text><text x="120.5" y="72">HO</text>
<text x="65" y="52">O</text><text x="105" y="52">O</text><text x="145" y="52">O</text>
<path d="M32,47 L39.5,47 M50,47 L60,47 M70,47 L80,47 M90,47 L100,47 M110,47 L120,47 M130,47 L140,47 M42.7,36 L42.7,41 M46.7,36 L46.7,41 M83,36 L83,41 M87,36 L87,41 M123,36 L123,41 M127,36 L127,41 M44.7,53 L44.7,61 M85,53 L85,61 M125,53 L125,61 M151,42 L160,35"/>
<path class="w" d="M160,35 L177,38.4 L177,42.4 Z"/>
<g transform="translate(177,40.4)"><path d="M0,0 L12,-8.4 M22,-8.4 L33.7,0 L28,20.1 L7,20.1 L0,0 M52,-11 L58,-24.4 L72,-26.5 M60,-21.5 L71,-23 M80,-21 L84,-4.4 L67,6.6 L54,-2 M67,6.6 L68,18.5 M73,28 L85,33.6 M74,31.8 L83,35.8 M85,33.6 L98,25 M103,13 L103,0 M106.5,12 L106.5,2 M103,0 L84,-4.4 M103,0 L111,-5"/><path class="h" d="M7,20.1 L2,30.6 M28,20.1 L35,30.6"/><path class="w" d="M33.7,0 L45,-7 L46.5,-3 Z"/><text x="17" y="-6.4">O</text><text x="-5" y="42.4">HO</text><text x="41" y="41.1">OH</text><text x="49" y="-0.4">N</text><text x="78" y="-22.1">N</text><text x="68.5" y="30">N</text><text x="103" y="24.9">N</text><text class="s" x="112" y="-3.6">NH<tspan font-size="70%" dy="3">2</tspan></text></g>
</g><text class="id" x="10" y="101">C00002</text></g>

<g id="C00011_c" transform="translate(517,2620)"><rect class="bx" width="73" height="57"/><g class="m" font-size="14"><text x="17" y="27">O</text><text x="53" y="27">O</text><path d="M22,16 L35,8 L48,16 M24,19.5 L35,12.5 L46,19.5"/></g><text class="id" x="12" y="45">C00011</text></g>
<g id="C00001_h" transform="translate(614,2615)"><rect class="bx" width="73" height="64"/><g class="m" font-size="14"><text x="16" y="22">H</text><text x="37" y="35">O</text><text x="57" y="21">H</text><path d="M20,19 L32,28 M42,28 L53,18"/></g><text class="id" x="12" y="54">C00001</text></g>
</svg>
